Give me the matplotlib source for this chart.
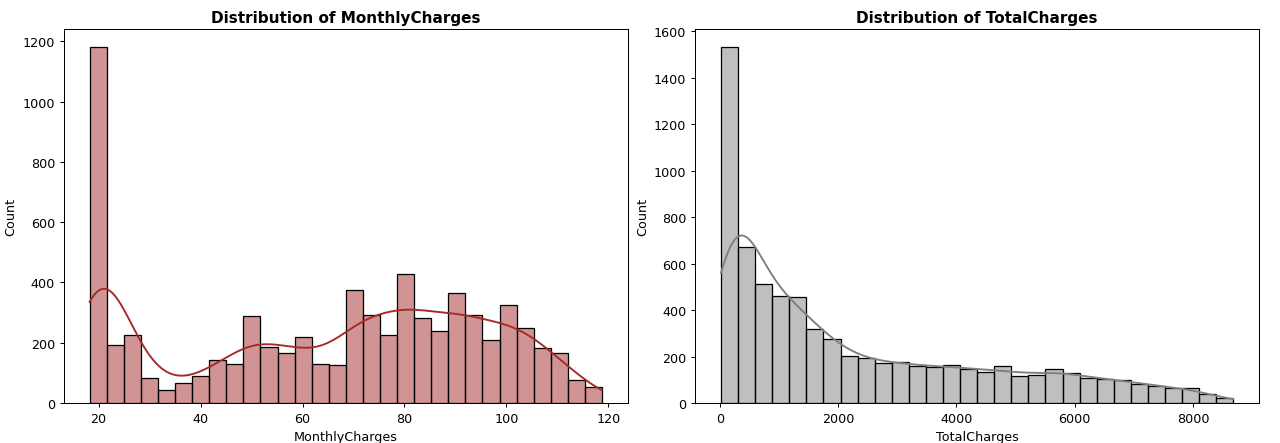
import matplotlib
matplotlib.use("Agg")
import matplotlib.pyplot as plt
import seaborn as sns
import numpy as np

# histogram counts (30 bins each)
monthly_range = (18.25, 118.75)
monthly_counts = [1181, 191, 227, 84, 43, 66, 90, 143, 131, 288,
                  186, 165, 219, 129, 125, 375, 293, 225, 429, 281,
                  240, 366, 293, 208, 324, 248, 184, 166, 78, 54]

total_range = (18.8, 8684.8)
total_counts = [1532, 673, 513, 459, 456, 319, 277, 202, 192, 171,
                178, 160, 155, 163, 147, 135, 158, 115, 120, 148,
                128, 107, 103, 100, 84, 74, 66, 66, 37, 23]


def rebuild(counts, lo, hi):
    # spread each bin's count evenly inside the bin
    edges = np.linspace(lo, hi, len(counts) + 1)
    vals = []
    for i, c in enumerate(counts):
        w = edges[i + 1] - edges[i]
        vals.append(edges[i] + (np.arange(c) + 0.5) / c * w)
    return np.concatenate(vals), edges


monthly, m_edges = rebuild(monthly_counts, *monthly_range)
total, t_edges = rebuild(total_counts, *total_range)

fig, axes = plt.subplots(1, 2, figsize=(14, 4.856), dpi=1280 / 14)

sns.histplot(monthly, bins=m_edges, kde=True, color='brown', edgecolor='black', ax=axes[0])
axes[0].set_title('Distribution of MonthlyCharges', fontweight='bold', fontsize=12)
axes[0].set_xlabel('MonthlyCharges')

sns.histplot(total, bins=t_edges, kde=True, color='gray', edgecolor='black', ax=axes[1])
axes[1].set_title('Distribution of TotalCharges', fontweight='bold', fontsize=12)
axes[1].set_xlabel('TotalCharges')

plt.subplots_adjust(left=0.05, right=0.9836, top=0.932, bottom=0.09, wspace=0.12)
plt.savefig('out.png')
